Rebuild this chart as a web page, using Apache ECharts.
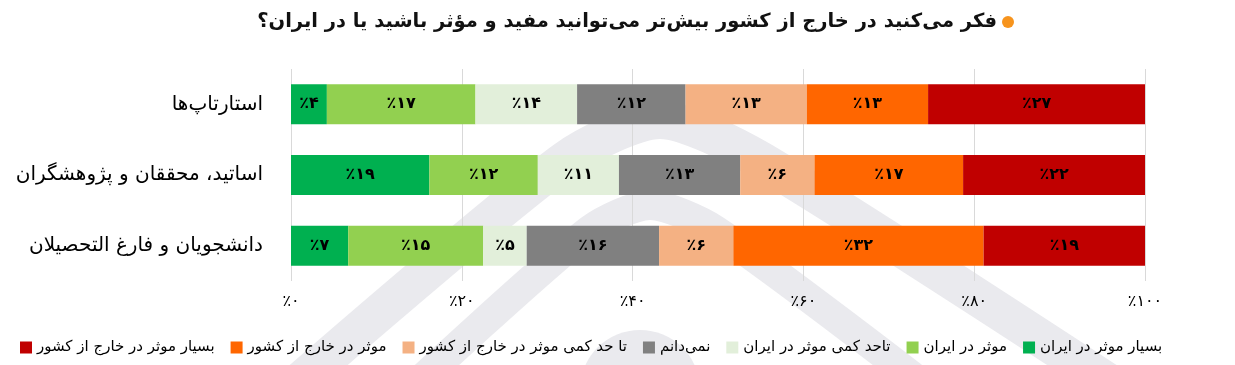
<!DOCTYPE html>
<html>
<head>
<meta charset="utf-8">
<script src="https://cdn.jsdelivr.net/npm/echarts@6/dist/echarts.min.js"></script>
<style>html,body{margin:0;padding:0;background:#fff;}#c{width:1235px;height:365px;}</style>
</head>
<body>
<div id="c"></div>
<script>
var categories = ['استارتاپ‌ها', 'اساتید، محققان و پژوهشگران', 'دانشجویان و فارغ التحصیلان'];
var seriesNames = ['بسیار موثر در ایران', 'موثر در ایران', 'تاحد کمی موثر در ایران', 'نمی‌دانم', 'تا حد کمی موثر در خارج از کشور', 'موثر در خارج از کشور', 'بسیار موثر در خارج از کشور'];
// bar lengths as drawn in the picture (percent of axis)
var veryIran = [4.2, 16.2, 6.7];
var effIran = [17.4, 12.7, 15.8];
var littleIran = [11.9, 9.5, 5.1];
var dontKnow = [12.7, 14.2, 15.5];
var littleAbroad = [14.2, 8.7, 8.7];
var effAbroad = [14.2, 17.4, 29.3];
var veryAbroad = [25.4, 21.3, 18.9];
// printed labels
var veryIranLabel = [4, 19, 7];
var effIranLabel = [17, 12, 15];
var littleIranLabel = [14, 11, 5];
var dontKnowLabel = [12, 13, 16];
var littleAbroadLabel = [13, 6, 6];
var effAbroadLabel = [13, 17, 32];
var veryAbroadLabel = [27, 22, 19];
var seriesValues = [veryIran, effIran, littleIran, dontKnow, littleAbroad, effAbroad, veryAbroad];
var seriesLabels = [veryIranLabel, effIranLabel, littleIranLabel, dontKnowLabel, littleAbroadLabel, effAbroadLabel, veryAbroadLabel];
var colors = ['#00b050', '#92d050', '#e2efda', '#808080', '#f4b183', '#ff6600', '#c00000'];
var xTicks = [0, 20, 40, 60, 80, 100];
var titleText = 'فکر می‌کنید در خارج از کشور بیش‌تر می‌توانید مفید و مؤثر باشید یا در ایران؟';

var FONT = '"DejaVu Sans", "Noto Sans", sans-serif';
function toFa(n) { return String(n).replace(/\d/g, function (d) { return '۰۱۲۳۴۵۶۷۸۹'[d]; }); }

var chart = echarts.init(document.getElementById('c'), null, { renderer: 'canvas' });
var series = seriesNames.map(function (name, i) {
  return {
    name: name,
    type: 'bar',
    stack: 'total',
    barWidth: 40,
    data: seriesValues[i],
    itemStyle: { color: colors[i] },
    label: {
      show: true,
      position: 'inside',
      color: '#000',
      fontFamily: FONT,
      fontSize: 16,
      fontWeight: 'bold',
      formatter: function (p) { return '٪' + toFa(seriesLabels[i][p.dataIndex]); }
    },
    emphasis: { disabled: true }
  };
});

chart.setOption({
  backgroundColor: '#fff',
  animation: false,
  textStyle: { fontFamily: FONT },
  graphic: [
    { type: 'polyline', z: -10, silent: true, shape: { points: [[290, 390], [565, 160], [660, 120], [760, 160], [1120, 390]], smooth: 0.25 }, style: { fill: null, stroke: '#eaeaee', lineWidth: 38 } },
    { type: 'polyline', z: -10, silent: true, shape: { points: [[410, 390], [590, 230], [650, 205], [715, 230], [930, 390]], smooth: 0.25 }, style: { fill: null, stroke: '#eaeaee', lineWidth: 30 } },
    { type: 'circle', z: -10, silent: true, shape: { cx: 640, cy: 390, r: 60 }, style: { fill: '#eaeaee' } },
    { type: 'text', x: 997, y: 22, style: { text: titleText, font: 'bold 19.5px ' + FONT, fill: '#111', align: 'right', verticalAlign: 'middle' } },
    { type: 'circle', shape: { cx: 1008, cy: 22, r: 6 }, style: { fill: '#f7941d' } }
  ],
  legend: {
    data: seriesNames.slice().reverse(),
    left: 15,
    top: 335,
    itemWidth: 12,
    itemHeight: 12,
    itemGap: 16,
    icon: 'rect',
    textStyle: { color: '#000', fontSize: 15, fontFamily: FONT },
    selectedMode: false
  },
  grid: { left: 291, right: 90, top: 69, bottom: 84, containLabel: false },
  xAxis: {
    type: 'value',
    min: 0,
    max: 100,
    interval: 20,
    axisLine: { show: false },
    axisTick: { show: false },
    splitLine: { show: true, lineStyle: { color: '#d9d9d9', width: 1 } },
    axisLabel: {
      color: '#000',
      fontSize: 16,
      fontFamily: FONT,
      margin: 13,
      formatter: function (v) { return xTicks.indexOf(v) >= 0 ? '٪' + toFa(v) : ''; }
    }
  },
  yAxis: {
    type: 'category',
    data: categories,
    inverse: true,
    axisLine: { show: false },
    axisTick: { show: false },
    axisLabel: { color: '#000', fontSize: 20, fontFamily: FONT, margin: 28 }
  },
  series: series
});
</script>
</body>
</html>
